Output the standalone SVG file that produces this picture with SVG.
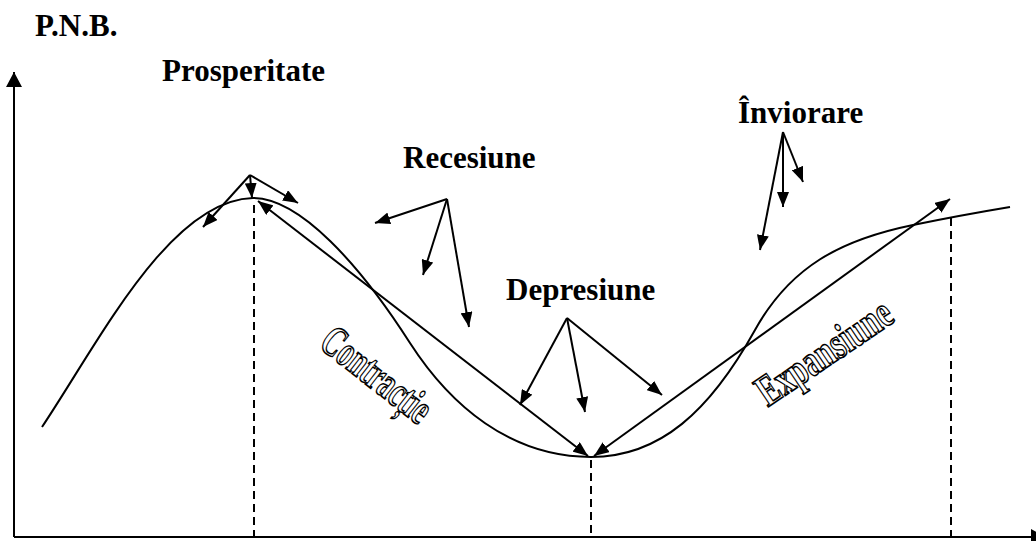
<svg xmlns="http://www.w3.org/2000/svg" width="1036" height="541" viewBox="0 0 1036 541">
<style>
.lbl{font-family:"Liberation Serif","Times New Roman",serif;font-weight:bold;font-size:31px;fill:#000}
.ol{font-family:"Liberation Serif","Times New Roman",serif;font-weight:bold;font-size:44px;fill:#fff;stroke:#000;stroke-width:1.6}
.ln{stroke:#000;stroke-width:2;fill:none}
.dash{stroke:#000;stroke-width:2;stroke-dasharray:8 5;fill:none}
</style>
<defs>
<marker id="ah" viewBox="0 0 15 12" refX="15" refY="6" markerWidth="15" markerHeight="12" markerUnits="userSpaceOnUse" orient="auto-start-reverse"><path d="M0,0L15,6L0,12z" fill="#000"/></marker>
<marker id="ax" viewBox="0 0 15 16" refX="15" refY="8" markerWidth="15" markerHeight="16" markerUnits="userSpaceOnUse" orient="auto"><path d="M0,0L15,8L0,16z" fill="#000"/></marker>
</defs>
<rect width="1036" height="541" fill="#fff"/>
<g id="axes">
<line class="ln" x1="14" y1="537" x2="14" y2="72" marker-end="url(#ax)"/>
<line class="ln" x1="14" y1="537" x2="1046" y2="537" marker-end="url(#ax)"/>
</g>
<g id="curve">
<path class="ln" d="M42,427C100,340 170,200 253,198C300,198 360,265 410,343C450,405 510,457 591,457C660,457 710,411 755,330C790,267 840,240 913,225C945,218.4 980,212 1010,207"/>
</g>
<g id="guides">
<line class="dash" x1="254" y1="205" x2="254" y2="537"/>
<line class="dash" x1="591" y1="460" x2="591" y2="537"/>
<line class="dash" x1="951" y1="218" x2="951" y2="537"/>
</g>
<g id="connectors">
<line class="ln" x1="258" y1="201" x2="588" y2="456" marker-start="url(#ah)" marker-end="url(#ah)"/>
<line class="ln" x1="594" y1="456" x2="950" y2="199" marker-start="url(#ah)" marker-end="url(#ah)"/>
<line class="ln" x1="250" y1="175" x2="252" y2="198" marker-end="url(#ah)"/>
<line class="ln" x1="250" y1="175" x2="298" y2="203" marker-end="url(#ah)"/>
<line class="ln" x1="250" y1="175" x2="203" y2="227" marker-end="url(#ah)"/>
<line class="ln" x1="447" y1="199" x2="375" y2="223" marker-end="url(#ah)"/>
<line class="ln" x1="447" y1="199" x2="423" y2="275" marker-end="url(#ah)"/>
<line class="ln" x1="447" y1="199" x2="469" y2="327" marker-end="url(#ah)"/>
<line class="ln" x1="567" y1="318" x2="520" y2="405" marker-end="url(#ah)"/>
<line class="ln" x1="567" y1="318" x2="585" y2="412" marker-end="url(#ah)"/>
<line class="ln" x1="567" y1="318" x2="662" y2="395" marker-end="url(#ah)"/>
<line class="ln" x1="783" y1="132" x2="760" y2="250" marker-end="url(#ah)"/>
<line class="ln" x1="783" y1="132" x2="783" y2="207" marker-end="url(#ah)"/>
<line class="ln" x1="783" y1="132" x2="803" y2="182" marker-end="url(#ah)"/>
</g>
<g id="pnb"><text class="lbl" x="35" y="36">P.N.B.</text></g>
<g id="prosperitate"><text class="lbl" x="162" y="81">Prosperitate</text></g>
<g id="recesiune"><text class="lbl" x="403" y="168">Recesiune</text></g>
<g id="depresiune"><text class="lbl" x="506" y="300">Depresiune</text></g>
<g id="inviorare"><text class="lbl" x="738" y="123">Înviorare</text></g>
<g id="contractie"><text class="ol" text-anchor="middle" textLength="128" lengthAdjust="spacingAndGlyphs" transform="translate(368,386) rotate(38)">Contracție</text></g>
<g id="expansiune"><text class="ol" text-anchor="middle" textLength="155" lengthAdjust="spacingAndGlyphs" transform="translate(832,364) rotate(-34)">Expansiune</text></g>
</svg>
